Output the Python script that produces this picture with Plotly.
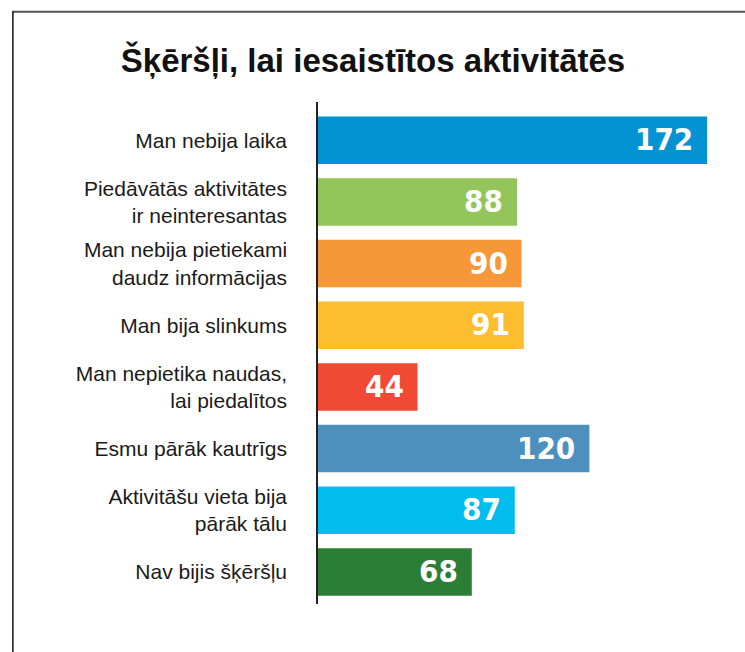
import plotly.graph_objects as go

title = "Šķēršļi, lai iesaistītos aktivitātēs"
categories = [
    "Man nebija laika",
    "Piedāvātās aktivitātes<br>ir neinteresantas",
    "Man nebija pietiekami<br>daudz informācijas",
    "Man bija slinkums",
    "Man nepietika naudas,<br>lai piedalītos",
    "Esmu pārāk kautrīgs",
    "Aktivitāšu vieta bija<br>pārāk tālu",
    "Nav bijis šķēršļu",
]
values = [172, 88, 90, 91, 44, 120, 87, 68]
colors = ["#0392D3", "#93C55B", "#F69738", "#FDBD2F", "#F04A35",
          "#4D90BD", "#00BDEE", "#2C7E36"]

fig = go.Figure()
fig.add_trace(go.Bar(
    x=values, y=categories, orientation="h",
    marker=dict(color=colors, line=dict(width=0)),
    width=0.77, hoverinfo="skip",
))

for v, c in zip(values, categories):
    fig.add_annotation(
        x=v, y=c, text=str(v), showarrow=False, xanchor="right", yanchor="middle",
        xshift=-12, yshift=1,
        font=dict(family="Liberation Sans Narrow, DejaVu Sans Condensed, Arial Narrow, sans-serif",
                  size=31, color="white", weight="bold"),
    )

# frame lines
fig.add_shape(type="line", xref="paper", yref="paper", x0=-0.76, x1=1.07,
              y0=1.18, y1=1.18, line=dict(color="#555555", width=2))
fig.add_shape(type="line", xref="paper", yref="paper", x0=-0.759, x1=-0.759,
              y0=1.181, y1=-0.2, line=dict(color="#111111", width=1.5))

fig.update_layout(
    width=745, height=652,
    margin=dict(l=318, r=25, t=102, b=48),
    paper_bgcolor="white", plot_bgcolor="white",
    showlegend=False,
    title=dict(text="<b>" + title + "</b>", xref="container", x=373/745, xanchor="center",
               yref="container", y=1 - 60/652, yanchor="middle",
               font=dict(family="Liberation Sans, Arial, Helvetica, sans-serif",
                         size=33, color="#111111")),
    font=dict(family="Liberation Sans, Arial, Helvetica, sans-serif", color="#1a1a1a"),
)

fig.update_xaxes(range=[0, 177.75], visible=False, fixedrange=True)
fig.update_yaxes(range=[7.52, -0.62], showline=True, linecolor="#222222", linewidth=1.5,
                 showgrid=False, zeroline=False, ticks="", ticklabelstandoff=25,
                 tickfont=dict(size=21, color="#1a1a1a"), fixedrange=True)

fig.write_html("out.html", config={"displayModeBar": False},
               post_script="document.body.style.margin='0';")
